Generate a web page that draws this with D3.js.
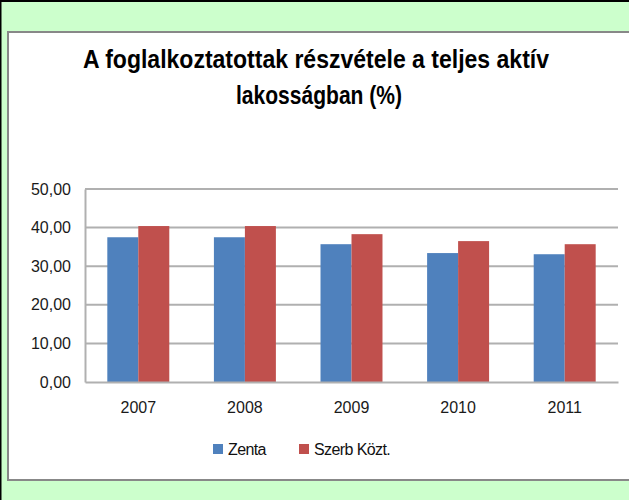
<!DOCTYPE html>
<html>
<head>
<meta charset="utf-8">
<script src="https://cdn.jsdelivr.net/npm/d3@7"></script>
<style>
  html, body { margin: 0; padding: 0; background: #ccffcc; }
  text { font-family: "Liberation Sans", Arial, sans-serif; }
</style>
</head>
<body>
<svg id="chart" width="629" height="500"></svg>
<script>
// data
var years = ["2007", "2008", "2009", "2010", "2011"];
var zenta = [37.5, 37.5, 35.7, 33.4, 33.1];
var szerb = [40.4, 40.4, 38.3, 36.5, 35.7];
var seriesNames = ["Zenta", "Szerb Közt."];
var seriesColors = ["#4f81bd", "#c0504d"];
var yTicks = [0, 10, 20, 30, 40, 50];
var titleLines = ["A foglalkoztatottak részvétele a teljes aktív", "lakosságban (%)"];

var svg = d3.select("#chart"),
    width = +svg.attr("width"),
    height = +svg.attr("height");

var margin = {left: 85, right: 11, top: 189, bottom: 118};

// background and frames
svg.append("rect").attr("width", width).attr("height", height).attr("fill", "#ccffcc");
svg.append("rect")
    .attr("x", 8).attr("y", 32)
    .attr("width", width).attr("height", 448)
    .attr("fill", "#fff")
    .attr("stroke", "#888").attr("stroke-width", 2);
svg.append("rect").attr("x", 0).attr("y", 0).attr("width", width).attr("height", 2).attr("fill", "#000");
svg.append("rect").attr("x", 0).attr("y", 0).attr("width", 1.5).attr("height", height).attr("fill", "#000");

// title
var titles = [{t: titleLines[0], x: 316, y: 68, len: 466}, {t: titleLines[1], x: 319, y: 104, len: 166}];
svg.selectAll("text.title")
    .data(titles)
    .enter().append("text")
      .attr("class", "title")
      .attr("x", function(d) { return d.x; })
      .attr("y", function(d) { return d.y; })
      .attr("text-anchor", "middle")
      .attr("font-size", 25)
      .attr("font-weight", "bold")
      .attr("textLength", function(d) { return d.len; })
      .attr("lengthAdjust", "spacingAndGlyphs")
      .text(function(d) { return d.t; });

var x0 = d3.scaleBand()
    .domain(years)
    .range([margin.left, width - margin.right]);

var x1 = d3.scaleBand()
    .domain([0, 1])
    .range([0, x0.bandwidth()])
    .paddingInner(0)
    .paddingOuter(0.72);

var y = d3.scaleLinear()
    .domain([0, 50])
    .range([height - margin.bottom, margin.top]);

var loc = d3.formatLocale({decimal: ",", thousands: " ", grouping: [3], currency: ["", ""]});
var fmt = loc.format(".2f");

// gridlines
svg.append("g")
    .selectAll("line")
    .data(yTicks.slice(1))
    .enter().append("line")
      .attr("x1", margin.left).attr("x2", width - margin.right)
      .attr("y1", function(d) { return y(d); })
      .attr("y2", function(d) { return y(d); })
      .attr("stroke", "#b0b0b0")
      .attr("stroke-width", 2);

// bars
var rows = years.map(function(yr, i) { return {year: yr, vals: [zenta[i], szerb[i]]}; });
svg.append("g")
    .selectAll("g")
    .data(rows)
    .enter().append("g")
      .attr("transform", function(d) { return "translate(" + x0(d.year) + ",0)"; })
    .selectAll("rect")
    .data(function(d) { return d.vals.map(function(v, k) { return {k: k, v: v}; }); })
    .enter().append("rect")
      .attr("x", function(d) { return x1(d.k); })
      .attr("width", x1.bandwidth())
      .attr("y", function(d) { return y(d.v); })
      .attr("height", function(d) { return y(0) - y(d.v); })
      .attr("fill", function(d) { return seriesColors[d.k]; });

// y axis
var yAxis = svg.append("g")
    .attr("transform", "translate(" + margin.left + ",0)")
    .call(d3.axisLeft(y).tickValues(yTicks).tickFormat(fmt).tickSize(0).tickPadding(14));
yAxis.select(".domain").attr("stroke", "#b0b0b0").attr("stroke-width", 2);
yAxis.selectAll("text").attr("font-size", 16).attr("fill", "#1a1a1a").attr("font-family", "Liberation Sans, Arial, sans-serif");

// x axis
var xAxis = svg.append("g")
    .attr("transform", "translate(0," + y(0) + ")")
    .call(d3.axisBottom(x0).tickSize(0).tickPadding(20));
xAxis.select(".domain").attr("stroke", "#b0b0b0").attr("stroke-width", 2);
xAxis.selectAll("text").attr("font-size", 16).attr("fill", "#1a1a1a").attr("font-family", "Liberation Sans, Arial, sans-serif");

// legend
var legendPos = [213, 299];
var legend = svg.append("g")
    .selectAll("g")
    .data(seriesNames)
    .enter().append("g")
      .attr("transform", function(d, i) { return "translate(" + legendPos[i] + ",444)"; });
legend.append("rect")
    .attr("width", 10).attr("height", 10)
    .attr("fill", function(d, i) { return seriesColors[i]; });
legend.append("text")
    .attr("x", 15).attr("y", 10.5)
    .attr("font-size", 16)
    .attr("fill", "#111")
    .attr("letter-spacing", -0.6)
    .text(function(d) { return d; });
</script>
</body>
</html>
